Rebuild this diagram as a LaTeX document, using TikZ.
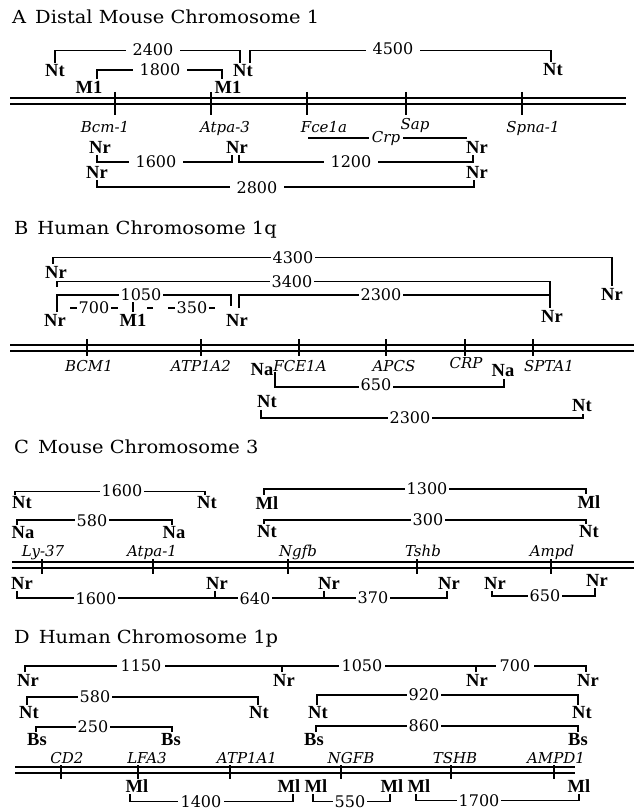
\documentclass[tikz,border=0pt]{standalone}
\usepackage{fontspec}
\setmainfont{DejaVu Serif}
\newfontfamily\titlef[FakeStretch=1.08]{DejaVu Serif}
\newfontfamily\sitef{Liberation Serif}
\newfontfamily\numf{DejaVu Serif}
\begin{document}
\begin{tikzpicture}[x=1pt,y=-1pt,
 ttl/.style={anchor=base west,inner sep=0pt,font=\titlef\fontsize{18}{20}\selectfont},
 site/.style={inner sep=1.5pt,font=\sitef\bfseries\fontsize{18.5}{20}\selectfont},
 gene/.style={anchor=base,inner sep=1pt,font=\numf\itshape\fontsize{15}{18}\selectfont},
 num/.style={fill=white,inner ysep=0.5pt,inner xsep=2pt,font=\numf\fontsize{16}{18}\selectfont},
 wide/.style={inner xsep=7pt},
 brk/.style={line width=1.1pt},
 chrom/.style={line width=1.5pt},
 tck/.style={line width=1.4pt}]
\fill[white] (0,0) rectangle (634,810);
\useasboundingbox (0,0) rectangle (634,810);

% ================= A =================
\node[ttl] (tA) at (12,24) {A\enspace Distal Mouse Chromosome 1};
\node[site] (ntA1) at (55,70.5) {Nt};
\node[site] (ntA2) at (243,70.5) {Nt};
\node[site] (ntA3) at (553,69.5) {Nt};
\node[site] (mA1) at (89,87) {M1};
\node[site] (mA2) at (228,87) {M1};
\draw[brk] (ntA1.north) -- (ntA1.north |- 0,50.7) -| ([xshift=-3pt]ntA2.north);
\draw[brk] ([xshift=7pt]ntA2.north) -- ([xshift=7pt]ntA2.north |- 0,50.7) -| ([xshift=-2pt]ntA3.north);
\draw[brk] ([xshift=8pt]mA1.north) -- ([xshift=8pt]mA1.north |- 0,70) -| ([xshift=-6pt]mA2.north);
\node[num,wide] (a2400) at (153,49.5) {2400};
\node[num,wide] (a4500) at (393,49) {4500};
\node[num,wide] (a1800) at (160,70) {1800};
% chromosome
\draw[chrom] (10,98) -- (626,98) (10,104) -- (626,104);
\foreach \x in {115,211,307,406,522} \draw[tck] (\x,92) -- (\x,115);
\node[gene] (gA1) at (105,133) {Bcm-1};
\node[gene] (gA2) at (225,133) {Atpa-3};
\node[gene] (gA3) at (324,133) {Fce1a};
\node[gene] (gA4) at (415,130) {Sap};
\node[gene] (gA5) at (533,133) {Spna-1};
\coordinate (crpL) at (308,138);
\coordinate (crpR) at (467,138);
\draw[brk] (crpL) -- (crpR);
\node[gene,fill=white,inner xsep=3pt] (gA6) at (386,143) {Crp};
\node[site] (nrA1) at (100,147) {Nr};
\node[site] (nrA2) at (237,147) {Nr};
\node[site] (nrA3) at (477,147) {Nr};
\node[site] (nrA4) at (97,172) {Nr};
\node[site] (nrA5) at (477,172) {Nr};
\draw[brk] ([xshift=-3pt]nrA1.south) -- ([xshift=-3pt]nrA1.south |- 0,162) -| ([xshift=-5pt]nrA2.south);
\draw[brk] ([xshift=2pt]nrA2.south) -- ([xshift=2pt]nrA2.south |- 0,162) -| ([xshift=-4pt]nrA3.south);
\draw[brk] (nrA4.south) -- (nrA4.south |- 0,187) -| ([xshift=-3pt]nrA5.south);
\node[num,wide] (a1600) at (156,162) {1600};
\node[num,wide] (a1200) at (351,162) {1200};
\node[num,wide] (a2800) at (257,187.5) {2800};

% ================= B =================
\node[ttl] (tB) at (14,234) {B\enspace Human Chromosome 1q};
\node[site] (nrB1) at (56,272) {Nr};
\node[site] (nrB2) at (612,294) {Nr};
\node[site] (nrB3) at (55,320) {Nr};
\node[site] (mB1) at (133,320) {M1};
\node[site] (nrB4) at (237,320) {Nr};
\node[site] (nrB5) at (552,316) {Nr};
\draw[brk] ([xshift=-3pt]nrB1.north) -- ([xshift=-3pt]nrB1.north |- 0,257.7) -| (nrB2.north);
\coordinate (b34L) at (57,287);
\draw[brk] (b34L) -- (b34L |- 0,281.7) -| ([xshift=-2pt]nrB5.north);
\draw[brk] ([xshift=2pt]nrB3.north) -- ([xshift=2pt]nrB3.north |- 0,295) -| ([xshift=-6pt,yshift=6pt]nrB4.north);
\draw[brk] ([xshift=2pt,yshift=4pt]nrB4.north) -- ([xshift=2pt]nrB4.north |- 0,295) -| ([xshift=-2pt]nrB5.north);
\draw[brk] (mB1.north) -- (mB1.north |- 0,300);
\coordinate (d7L) at (70,308); \coordinate (d7R) at (118,308);
\draw[brk] (d7L) -- (d7R);
\coordinate (d3a) at (147,308); \coordinate (d3b) at (153,308);
\draw[brk] (d3a) -- (d3b);
\coordinate (d35L) at (168,308); \coordinate (d35R) at (215,308);
\draw[brk] (d35L) -- (d35R);
\node[num] (b700) at (94,308) {700};
\node[num] (b350) at (192,308) {350};
\node[num] (b4300) at (293,257.7) {4300};
\node[num] (b3400) at (292,281.7) {3400};
\node[num] (b1050) at (141,295) {1050};
\node[num] (b2300) at (381,295) {2300};
% chromosome
\draw[chrom] (10,345) -- (634,345) (10,351) -- (634,351);
\foreach \x in {87,201,299,386,465,533} \draw[tck] (\x,339) -- (\x,356);
\node[gene] (gB1) at (89,371) {BCM1};
\node[gene] (gB2) at (201,371) {ATP1A2};
\node[gene] (gB3) at (300,371) {FCE1A};
\node[gene] (gB4) at (394,371) {APCS};
\node[gene] (gB5) at (466,368) {CRP};
\node[gene] (gB6) at (549,371) {SPTA1};
\node[site] (naB1) at (262,370) {Na};
\node[site] (naB2) at (503,371) {Na};
\node[site] (ntB1) at (267,402) {Nt};
\node[site] (ntB2) at (582,406) {Nt};
\draw[brk] ([yshift=-2pt]naB1.east) -- ([yshift=-2pt]naB1.east |- 0,385) -| ([xshift=1pt]naB2.south);
\draw[brk] ([xshift=-6pt]ntB1.south) -- ([xshift=-6pt]ntB1.south |- 0,418) -| ([xshift=1pt]ntB2.south);
\node[num] (b650) at (376,385) {650};
\node[num] (b2300b) at (410,418) {2300};

% ================= C =================
\node[ttl] (tC) at (14,453) {C\enspace Mouse Chromosome 3};
\node[site] (ntC1) at (22,503) {Nt};
\node[site] (ntC2) at (207,503) {Nt};
\node[site] (mlC1) at (267,503) {Ml};
\node[site] (mlC2) at (589,502) {Ml};
\node[site] (naC1) at (23,533) {Na};
\node[site] (naC2) at (174,533) {Na};
\node[site] (ntC3) at (267,532) {Nt};
\node[site] (ntC4) at (589,532) {Nt};
\draw[brk] ([xshift=-7pt]ntC1.north) -- ([xshift=-7pt]ntC1.north |- 0,491.7) -| ([xshift=-2pt]ntC2.north);
\draw[brk] ([xshift=-3pt]mlC1.north) -- ([xshift=-3pt]mlC1.north |- 0,489) -| ([xshift=-3pt]mlC2.north);
\draw[brk] ([xshift=-6pt]naC1.north) -- ([xshift=-6pt]naC1.north |- 0,520) -| ([xshift=-2pt]naC2.north);
\draw[brk] ([xshift=-3pt]ntC3.north) -- ([xshift=-3pt]ntC3.north |- 0,520) -| ([xshift=-3pt]ntC4.north);
\node[num] (c1600) at (122,491) {1600};
\node[num] (c1300) at (427,489) {1300};
\node[num] (c580) at (92,520.5) {580};
\node[num] (c300) at (428,520) {300};
\node[gene] (gC1) at (43,556) {Ly-37};
\node[gene] (gC2) at (152,556) {Atpa-1};
\node[gene] (gC3) at (298,556) {Ngfb};
\node[gene] (gC4) at (423,556) {Tshb};
\node[gene] (gC5) at (552,556) {Ampd};
\draw[chrom] (12,562) -- (634,562) (12,568) -- (634,568);
\foreach \x in {42,153,288,417,551} \draw[tck] (\x,559) -- (\x,574);
\node[site] (nrC1) at (22,583) {Nr};
\node[site] (nrC2) at (217,583) {Nr};
\node[site] (nrC3) at (329,583) {Nr};
\node[site] (nrC4) at (449,583) {Nr};
\node[site] (nrC5) at (495,583) {Nr};
\node[site] (nrC6) at (597,580) {Nr};
\draw[brk] ([xshift=-5pt]nrC1.south) -- ([xshift=-5pt]nrC1.south |- 0,598) -| ([xshift=-2pt]nrC4.south);
\draw[brk] ([xshift=-2pt]nrC2.south) -- ([xshift=-2pt]nrC2.south |- 0,598);
\draw[brk] ([xshift=-5pt]nrC3.south) -- ([xshift=-5pt]nrC3.south |- 0,598);
\draw[brk] ([xshift=-3pt]nrC5.south) -- ([xshift=-3pt]nrC5.south |- 0,596) -| ([xshift=-2pt]nrC6.south);
\node[num] (c1600b) at (96,598.5) {1600};
\node[num] (c640) at (255,599) {640};
\node[num] (c370) at (373,598) {370};
\node[num] (c650) at (545,596) {650};

% ================= D =================
\node[ttl] (tD) at (14,643) {D\enspace Human Chromosome 1p};
\node[site] (nrD1) at (28,680) {Nr};
\node[site] (nrD2) at (284,680) {Nr};
\node[site] (nrD3) at (477,680) {Nr};
\node[site] (nrD4) at (588,680) {Nr};
\draw[brk] ([xshift=-3pt]nrD1.north) -- ([xshift=-3pt]nrD1.north |- 0,666) -| ([xshift=-2pt]nrD4.north);
\draw[brk] ([xshift=-2pt]nrD2.north) -- ([xshift=-2pt]nrD2.north |- 0,666);
\draw[brk] ([xshift=-1pt]nrD3.north) -- ([xshift=-1pt]nrD3.north |- 0,666);
\node[num,inner xsep=4pt] (d1150) at (141,666) {1150};
\node[num,inner xsep=3pt] (d1050) at (362,666) {1050};
\node[num,inner xsep=4pt] (d700) at (515,665.5) {700};
\node[site] (ntD1) at (29,713) {Nt};
\node[site] (ntD2) at (259,713) {Nt};
\node[site] (ntD3) at (318,713) {Nt};
\node[site] (ntD4) at (582,713) {Nt};
\draw[brk] ([xshift=-2pt]ntD1.north) -- ([xshift=-2pt]ntD1.north |- 0,697) -| ([xshift=-1pt]ntD2.north);
\draw[brk] ([xshift=-1pt]ntD3.north) -- ([xshift=-1pt]ntD3.north |- 0,695) -| ([xshift=-4pt]ntD4.north);
\node[num] (d580) at (95,697) {580};
\node[num] (d920) at (424,695) {920};
\node[site] (bsD1) at (37,740) {Bs};
\node[site] (bsD2) at (171,740) {Bs};
\node[site] (bsD3) at (314,740) {Bs};
\node[site] (bsD4) at (578,740) {Bs};
\draw[brk] ([xshift=-1pt]bsD1.north) -- ([xshift=-1pt]bsD1.north |- 0,727) -| ([xshift=1pt]bsD2.north);
\draw[brk] ([xshift=2pt]bsD3.north) -- ([xshift=2pt]bsD3.north |- 0,726) -| (bsD4.north);
\node[num] (d250) at (93,727) {250};
\node[num] (d860) at (424,726) {860};
\node[gene] (gD1) at (67,763) {CD2};
\node[gene] (gD2) at (147,763) {LFA3};
\node[gene] (gD3) at (247,763) {ATP1A1};
\node[gene] (gD4) at (351,763) {NGFB};
\node[gene] (gD5) at (455,763) {TSHB};
\node[gene] (gD6) at (556,763) {AMPD1};
\draw[chrom] (15,767) -- (575,767) (15,773) -- (575,773);
\foreach \x in {61,138,230,341,451,554} \draw[tck] (\x,765) -- (\x,779);
\node[site] (mlD1) at (137,786) {Ml};
\node[site] (mlD2) at (289,786) {Ml};
\node[site] (mlD3) at (316,786) {Ml};
\node[site] (mlD4) at (392,786) {Ml};
\node[site] (mlD5) at (419,786) {Ml};
\node[site] (mlD6) at (579,786) {Ml};
\draw[brk] ([xshift=-7pt]mlD1.south) -- ([xshift=-7pt]mlD1.south |- 0,801.5) -| ([xshift=4pt]mlD2.south);
\draw[brk] ([xshift=-3pt]mlD3.south) -- ([xshift=-3pt]mlD3.south |- 0,801.5) -| ([xshift=-2pt]mlD4.south);
\draw[brk] ([xshift=-3pt]mlD5.south) -- ([xshift=-3pt]mlD5.south |- 0,800.5) -| (mlD6.south);
\node[num,inner xsep=3pt] (d1400) at (201,801.5) {1400};
\node[num] (d550) at (350,801.5) {550};
\node[num] (d1700) at (479,800.5) {1700};
\end{tikzpicture}
\end{document}
